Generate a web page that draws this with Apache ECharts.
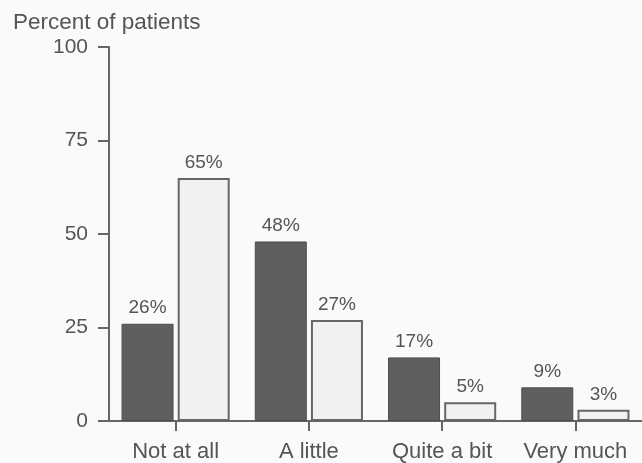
<!DOCTYPE html>
<html>
<head>
<meta charset="utf-8">
<script src="https://cdn.jsdelivr.net/npm/echarts@6/dist/echarts.min.js"></script>
<style>
  html, body { margin: 0; padding: 0; background: #fafafa; }
  #chart { width: 642px; height: 463px; }
</style>
</head>
<body>
<div id="chart"></div>
<script>
// Response categories along the x axis
const categories = ['Not at all', 'A little', 'Quite a bit', 'Very much'];
// Percent of patients in each group
const darkValues = [26, 48, 17, 9];
const lightValues = [65, 27, 5, 3];
// Y axis ticks
const yTicks = [0, 25, 50, 75, 100];

const textColor = '#555';
const axisColor = '#666';
const fontFamily = "'Liberation Sans', Arial, Helvetica, sans-serif";

const chart = echarts.init(document.getElementById('chart'));

const valueLabel = {
  show: true,
  position: 'top',
  distance: 6,
  formatter: '{c}%',
  color: textColor,
  fontSize: 19,
  fontFamily: fontFamily
};

chart.setOption({
  backgroundColor: '#fafafa',
  animation: false,
  title: {
    text: 'Percent of patients',
    left: 8,
    top: 6,
    textStyle: { color: textColor, fontSize: 22.5, fontWeight: 'normal', fontFamily: fontFamily }
  },
  grid: { left: 109, width: 539, top: 47, bottom: 41, containLabel: false },
  xAxis: {
    type: 'category',
    data: categories,
    boundaryGap: true,
    axisLine: { lineStyle: { color: axisColor, width: 2 } },
    axisTick: { show: true, interval: 0, alignWithLabel: true, length: 10, lineStyle: { color: axisColor, width: 2 } },
    axisLabel: { interval: 0, hideOverlap: false, color: textColor, fontSize: 22, fontFamily: fontFamily, margin: 20 },
    splitLine: { show: false }
  },
  yAxis: {
    type: 'value',
    min: yTicks[0],
    max: yTicks[yTicks.length - 1],
    interval: 25,
    axisLine: { show: true, lineStyle: { color: axisColor, width: 2 } },
    axisTick: { show: true, length: 11, lineStyle: { color: axisColor, width: 2 } },
    axisLabel: { color: textColor, fontSize: 21, fontFamily: fontFamily, margin: 21 },
    splitLine: { show: false }
  },
  series: [
    {
      type: 'bar',
      data: darkValues,
      barWidth: 52,
      barGap: '8%',
      itemStyle: { color: '#5f5f5f', borderColor: '#4d4d4d', borderWidth: 1 },
      label: valueLabel
    },
    {
      type: 'bar',
      data: lightValues,
      barWidth: 52,
      itemStyle: { color: '#f1f1f1', borderColor: '#666', borderWidth: 2 },
      label: valueLabel
    }
  ]
});
</script>
</body>
</html>
